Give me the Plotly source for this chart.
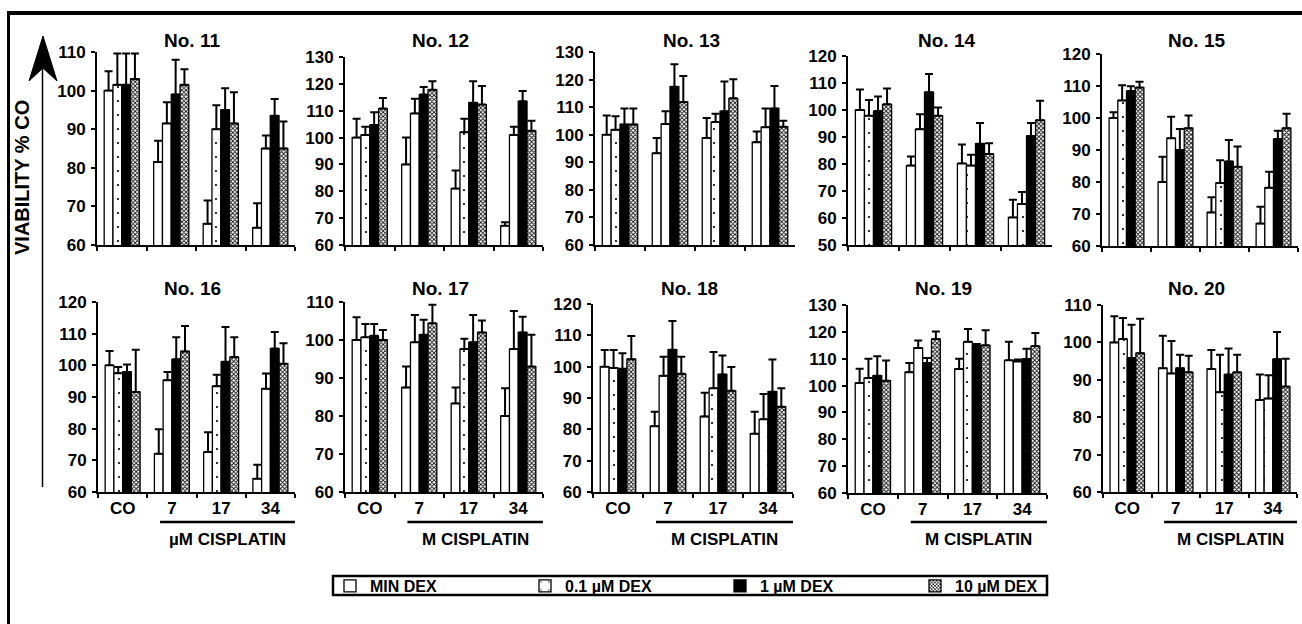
import plotly.graph_objects as go

W, H = 1302, 624

categories = ["CO", "7", "17", "34"]
series_names = ["MIN DEX", "0.1 µM DEX", "1 µM DEX", "10 µM DEX"]
panel_titles = ["No. 11", "No. 12", "No. 13", "No. 14", "No. 15",
                "No. 16", "No. 17", "No. 18", "No. 19", "No. 20"]
y_ranges = [[60, 110], [60, 130], [60, 130], [50, 120], [60, 120],
            [60, 120], [60, 110], [60, 120], [60, 130], [60, 110]]
cisplatin_labels = ["µM CISPLATIN", "M CISPLATIN", "M CISPLATIN", "M CISPLATIN", "M CISPLATIN"]

# means per series (MIN, 0.1, 1, 10 µM DEX) for CO, 7, 17, 34
no11_means = [[100, 81.5, 65.5, 64.5], [101.5, 91.5, 90, 85], [101.5, 99, 95, 93.5], [103, 101.5, 91.5, 85]]
no11_tops = [[105, 87, 71.5, 70.8], [109.6, 97, 96.2, 88.4], [109.6, 108, 100.6, 97.8], [109.6, 105.5, 99.6, 92]]

no12_means = [[100, 90, 81, 67.2], [101, 109, 102, 101], [104.7, 116, 113, 113.5], [110.8, 117.8, 112.3, 102.5]]
no12_tops = [[107, 100, 87.7, 68.5], [104, 114.5, 107, 104], [109.4, 118.8, 121, 117.3], [114.7, 121, 119.2, 106.3]]

no13_means = [[100, 93.3, 98.8, 97.3], [101.8, 103.9, 104.6, 102.7], [103.7, 117.4, 108.5, 109.5], [103.7, 111.9, 113.2, 102.9]]
no13_tops = [[107, 98.8, 106.1, 101.2], [106.7, 108.5, 107.6, 109.5], [109.5, 125.6, 119.3, 117.7], [109.5, 121.3, 120.1, 105.1]]

no14_means = [[100, 79.4, 80.2, 60.2], [97.9, 92.9, 79.4, 65.2], [99.6, 106.6, 87.5, 90.4], [102.1, 97.9, 83.7, 96.2]]
no14_tops = [[107.6, 82.8, 87.2, 66.8], [103.7, 98.4, 83.4, 69.6], [105, 113.3, 95.2, 95.2], [108, 100.9, 87.7, 103.4]]

no15_means = [[100, 80, 70.5, 67], [105.5, 93.7, 79.7, 78.2], [108.4, 90, 86.4, 93.4], [109.5, 96.8, 84.8, 96.8]]
no15_tops = [[101.8, 87.9, 75.2, 72.3], [110.2, 100.4, 86.8, 83.2], [109.9, 96.6, 93.1, 96], [111.3, 100.8, 91.1, 101.3]]

no16_means = [[100, 72.1, 72.6, 64.2], [97.5, 95.3, 93.4, 92.6], [97.9, 101.9, 101.1, 105.3], [91.6, 104.4, 102.6, 100.5]]
no16_tops = [[104.5, 79.8, 78.9, 68.6], [99.5, 97.9, 97, 97.4], [100.3, 108.9, 112.1, 110.5], [104.9, 112.4, 108.9, 107]]

no17_means = [[100, 87.5, 83.3, 80], [100.7, 99.4, 97.6, 97.6], [101.1, 101.4, 99.4, 102], [100, 104.4, 102, 93]]
no17_tops = [[106, 93, 87.5, 87.3], [104.2, 106.6, 100.3, 107.6], [104.2, 105.3, 106.6, 106.1], [102.6, 109.3, 105.1, 101.4]]

no18_means = [[100, 81, 84.1, 78.6], [99.6, 97.1, 93.1, 83.2], [99.3, 105.4, 97.5, 92], [102.4, 97.7, 92.3, 87.2]]
no18_tops = [[105.3, 85.6, 91.7, 85.6], [105.3, 103.2, 104.7, 91.3], [104.3, 114.6, 103.6, 102.3], [109.8, 103.2, 99.9, 93.1]]

no19_means = [[101, 105, 106.2, 109.4], [102.8, 114, 116.3, 109], [103.7, 108.4, 114.7, 109.9], [101.8, 117.3, 115, 114.7]]
no19_tops = [[106.3, 108.4, 110, 116.3], [110, 116.8, 121.1, 109.7], [110.9, 110.3, 115.5, 113.7], [109.3, 120.1, 120.6, 119.6]]

no20_means = [[100, 93.1, 92.9, 84.6], [100.9, 91.7, 86.7, 85], [95.8, 93.1, 91.4, 95.5], [97.1, 92, 92, 88.2]]
no20_tops = [[107, 101.8, 98, 91.4], [106.5, 100.4, 96.7, 91.2], [104.7, 96.7, 98.4, 102.8], [106.3, 96.4, 96.7, 95.6]]

all_means = [no11_means, no12_means, no13_means, no14_means, no15_means,
             no16_means, no17_means, no18_means, no19_means, no20_means]
all_tops = [no11_tops, no12_tops, no13_tops, no14_tops, no15_tops,
            no16_tops, no17_tops, no18_tops, no19_tops, no20_tops]

# ---- layout geometry (pixels) ----
x_px = [(97, 295), (345, 543), (595, 795), (848, 1052), (1102, 1298),
        (98, 295), (345, 543), (593, 793), (848, 1047), (1103, 1297)]
y_px = [(52, 245), (57, 245), (52, 245), (56, 245), (54, 246),
        (302, 492), (302, 492), (304, 492), (305, 493), (305, 492)]

FONT = "Liberation Sans, Arial, sans-serif"

def px2x(p):
    return p / W

def px2y(p):
    return 1 - p / H

styles = [
    dict(color="white", pattern=dict(shape="")),
    dict(color="white", pattern=dict(shape=".", fgcolor="black", bgcolor="white", size=14, solidity=0.02)),
    dict(color="black", pattern=dict(shape="")),
    dict(color="white", pattern=dict(shape="x", fgcolor="#111111", bgcolor="white", size=3, solidity=0.5)),
]

fig = go.Figure()
layout = {}
annotations = []
shapes = []

for i in range(10):
    ax = "" if i == 0 else str(i + 1)
    for s in range(4):
        means = all_means[i][s]
        tops = all_tops[i][s]
        err = [max(t - m, 0) for m, t in zip(means, tops)]
        st = styles[s]
        fig.add_trace(go.Bar(
            x=categories, y=means, name=series_names[s],
            legendgroup=series_names[s], showlegend=(i == 0),
            marker=dict(color=st["color"], pattern=st["pattern"],
                        line=dict(color="black", width=1.3)),
            error_y=dict(type="data", array=err, arrayminus=[0] * 4, symmetric=False,
                         color="black", thickness=2, width=4),
            xaxis="x" + ax, yaxis="y" + ax,
        ))
    bottom = i >= 5
    layout["xaxis" + ax] = dict(
        domain=[px2x(x_px[i][0]), px2x(x_px[i][1])], anchor="y" + ax,
        type="category", categoryorder="array", categoryarray=categories,
        range=[-0.5, 3.5], showline=True, linecolor="black", linewidth=2,
        ticks="outside", tickson="boundaries", ticklen=4, tickwidth=2, tickcolor="black",
        showticklabels=bottom, showgrid=False, zeroline=False, automargin=False,
        tickfont=dict(family=FONT, size=17, color="black", weight="bold"),
    )
    layout["yaxis" + ax] = dict(
        domain=[px2y(y_px[i][1]), px2y(y_px[i][0])], anchor="x" + ax,
        range=y_ranges[i], dtick=10, showline=True, linecolor="black", linewidth=2,
        ticks="outside", ticklen=4, tickwidth=2, tickcolor="black",
        showgrid=False, zeroline=False, ticklabelstandoff=2, automargin=False,
        tickfont=dict(family=FONT, size=17, color="black", weight="bold"),
    )
    # panel title
    cx = (x_px[i][0] + x_px[i][1]) / 2 - 4
    ty = 40 if i < 5 else 288
    annotations.append(dict(text=panel_titles[i], x=px2x(cx), y=px2y(ty), xref="paper", yref="paper",
                            showarrow=False, xanchor="center", yanchor="middle",
                            font=dict(family=FONT, size=19, color="black", weight="bold")))
    if bottom:
        j = i - 5
        shapes.append(dict(type="line", xref="x" + ax, yref="paper", x0=0.76, x1=3.5,
                           y0=px2y(522), y1=px2y(522), line=dict(color="black", width=2.5)))
        annotations.append(dict(text=cisplatin_labels[j], x=2.13, y=px2y(539), xref="x" + ax, yref="paper",
                                showarrow=False, xanchor="center", yanchor="middle",
                                font=dict(family=FONT, size=17, color="black", weight="bold")))

# y-axis title and arrow
annotations.append(dict(text="VIABILITY % CO", x=px2x(22), y=px2y(178), xref="paper", yref="paper",
                        textangle=-90, showarrow=False, xanchor="center", yanchor="middle",
                        font=dict(family=FONT, size=20, color="black", weight="bold")))
shapes.append(dict(type="line", xref="paper", yref="paper", x0=px2x(42.5), x1=px2x(42.5),
                   y0=px2y(487), y1=px2y(66), line=dict(color="black", width=1.5)))
path = "M {:.5f},{:.5f} L {:.5f},{:.5f} L {:.5f},{:.5f} L {:.5f},{:.5f} Z".format(
    px2x(43), px2y(36), px2x(57), px2y(81), px2x(43), px2y(68), px2x(29), px2y(81))
shapes.append(dict(type="path", xref="paper", yref="paper", path=path,
                   fillcolor="black", line=dict(color="black", width=1)))

# frame (top and left)
shapes.append(dict(type="line", xref="paper", yref="paper", x0=px2x(7), x1=1,
                   y0=px2y(13), y1=px2y(13), line=dict(color="black", width=4)))
shapes.append(dict(type="line", xref="paper", yref="paper", x0=px2x(8.5), x1=px2x(8.5),
                   y0=px2y(11), y1=0, line=dict(color="black", width=3)))

# legend box
shapes.append(dict(type="rect", xref="paper", yref="paper", x0=px2x(333), x1=px2x(1047),
                   y0=px2y(595), y1=px2y(576), line=dict(color="black", width=2.5)))

fig.update_layout(
    template="none",
    width=W, height=H, autosize=False,
    margin=dict(l=0, r=0, t=0, b=0, pad=0, autoexpand=False),
    paper_bgcolor="white", plot_bgcolor="white",
    barmode="group", bargap=0.29, bargroupgap=0,
    annotations=annotations, shapes=shapes,
    legend=dict(orientation="h", x=px2x(330), y=px2y(586), xanchor="left", yanchor="middle",
                entrywidth=150, entrywidthmode="pixels", bgcolor="rgba(0,0,0,0)",
                borderwidth=0, traceorder="normal", itemclick=False,
                font=dict(family=FONT, size=16, color="black", weight="bold")),
    showlegend=True,
    **layout,
)

fig.write_html("out.html", config={"displayModeBar": False},
               post_script="document.body.style.margin='0';document.body.style.overflow='hidden';")
